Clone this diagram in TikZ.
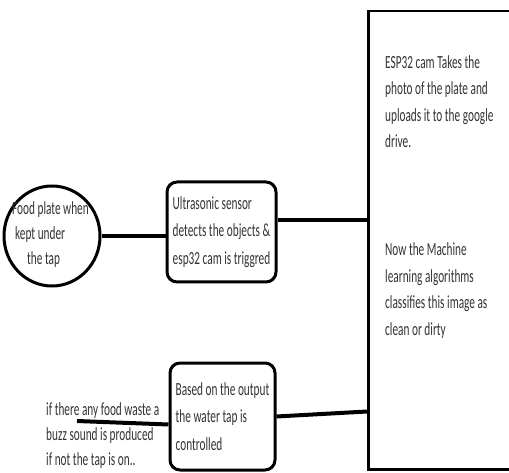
\documentclass[tikz,border=0pt]{standalone}
\usepackage{fontspec}
\setmainfont{Carlito}[FakeStretch=0.61]
\usetikzlibrary{shapes.geometric}
\begin{document}
\begin{tikzpicture}[x=1pt,y=-1pt,
  txt/.style={font=\fontsize{18.5}{26.5}\selectfont, text=black!80, align=left, inner sep=0pt},
  boxnode/.style={draw, line width=3pt, rounded corners=10pt, align=left, inner sep=1pt,
    font=\fontsize{18.5}{27.5}\selectfont, text=black!80},
  conn/.style={line width=4pt}]
\useasboundingbox (0,0) rectangle (509,473);
% big box (right edge beyond the picture)
\node[draw, line width=2.5pt, minimum width=170pt, minimum height=458pt, anchor=north west, inner sep=0pt] (big) at (367,10) {};
\node[txt, anchor=base west] (t1) at (385,148) {ESP32 cam Takes the\\photo of the plate and\\uploads it to the google\\drive.};
\node[txt, anchor=base west] (t2) at (385,335) {Now the Machine\\learning algorithms\\classifies this image as\\clean or dirty};
% plate
\node[ellipse, draw, line width=3pt, minimum width=96pt, minimum height=100pt, inner sep=0pt] (plate) at (52,236) {};
\node[txt, anchor=base west, font=\fontsize{18.5}{25}\selectfont] (pt) at (12,265) {Food plate when\\\hspace*{3pt}kept under\\\hspace*{15pt}the tap};
% boxes
\node[boxnode, minimum width=109pt, minimum height=100pt] (b1) at (221.5,232) {Ultrasonic sensor\\detects the objects \&\\esp32 cam is triggred};
\node[boxnode, minimum width=105pt, minimum height=107pt] (b2) at (222.5,416.5) {Based on the output\\the water tap is\\controlled};
% left text
\node[txt, anchor=base west, font=\fontsize{18.5}{25}\selectfont] (wt) at (46,465) {if there any food waste a\\buzz sound is produced\\if not the tap is on..};
\coordinate (w) at (77,421);
% connectors
\draw[conn] (plate.east) -- (plate.east -| b1.west);
\draw[conn] ([yshift=12pt]b1.east) -- ([yshift=12pt]b1.east -| big.west);
\draw[conn] (b2.east) -- ([yshift=5pt]b2.east -| big.west);
\draw[conn] (w) -- ([yshift=-8pt]b2.west);
\end{tikzpicture}
\end{document}
